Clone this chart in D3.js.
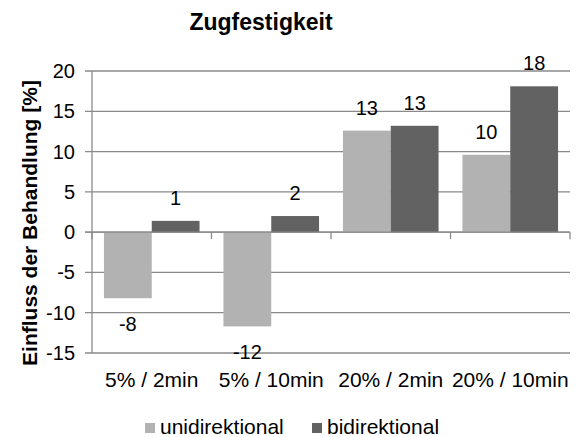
<!DOCTYPE html>
<html>
<head>
<meta charset="utf-8">
<script src="https://cdn.jsdelivr.net/npm/d3@7"></script>
<style>
  body { margin: 0; background: #fff; }
  text { font-family: "Liberation Sans", Arial, sans-serif; fill: #000; }
</style>
</head>
<body>
<svg id="chart"></svg>
<script>
// categories and series
const categories = ["5% / 2min", "5% / 10min", "20% / 2min", "20% / 10min"];
const seriesNames = ["unidirektional", "bidirektional"];
const uniValues = [-8.2, -11.7, 12.6, 9.6];
const biValues = [1.4, 2.0, 13.2, 18.1];
const yTicks = [-15, -10, -5, 0, 5, 10, 15, 20];

const W = 577, H = 437;
const margin = { top: 71, right: 7, bottom: 84, left: 92 };
const width = W - margin.left - margin.right,
      height = H - margin.top - margin.bottom;

const colors = { unidirektional: "#b2b2b2", bidirektional: "#626262" };
const gridColor = "#8a8a8a";

const svg = d3.select("#chart").attr("width", W).attr("height", H);
const g = svg.append("g").attr("transform", `translate(${margin.left}, ${margin.top})`);

const x = d3.scaleBand().domain(categories).range([0, width]).paddingInner(0.2).paddingOuter(0.1);
const xOuter = d3.scaleBand().domain(categories).range([0, width]);
const xSub = d3.scaleBand().domain(seriesNames).range([0, x.bandwidth()]);
const y = d3.scaleLinear().domain([-15, 20]).range([height, 0]);

// gridlines + y tick marks
g.selectAll("line.grid").data(yTicks).enter().append("line")
  .attr("class", "grid")
  .attr("x1", -7).attr("x2", width)
  .attr("y1", d => y(d)).attr("y2", d => y(d))
  .attr("stroke", gridColor).attr("stroke-width", 1.3);

// y axis line
g.append("line")
  .attr("x1", 0).attr("x2", 0).attr("y1", y(20)).attr("y2", y(-15))
  .attr("stroke", gridColor).attr("stroke-width", 1.3);

// y tick labels
g.selectAll("text.ytick").data(yTicks).enter().append("text")
  .attr("class", "ytick")
  .attr("x", -17).attr("y", d => y(d)).attr("dy", "0.35em")
  .attr("text-anchor", "end")
  .style("font-size", "20px")
  .text(d => d);

const data = categories.map((c, i) => ({
  cat: c,
  vals: [
    { s: "unidirektional", v: uniValues[i] },
    { s: "bidirektional", v: biValues[i] }
  ]
}));

const groups = g.selectAll("g.cat").data(data).enter().append("g")
  .attr("class", "cat")
  .attr("transform", d => `translate(${x(d.cat)},0)`);

groups.selectAll("rect").data(d => d.vals).enter().append("rect")
  .attr("x", d => xSub(d.s))
  .attr("width", xSub.bandwidth())
  .attr("y", d => y(Math.max(0, d.v)))
  .attr("height", d => Math.abs(y(d.v) - y(0)))
  .attr("fill", d => colors[d.s]);

groups.selectAll("text.lbl").data(d => d.vals).enter().append("text")
  .attr("class", "lbl")
  .attr("x", d => xSub(d.s) + xSub.bandwidth() / 2)
  .attr("y", d => d.v >= 0 ? y(d.v) - 16 : y(d.v) + 33)
  .attr("text-anchor", "middle")
  .style("font-size", "20px")
  .text(d => Math.round(d.v));

// zero line (x axis) with category ticks
g.append("line")
  .attr("x1", -7).attr("x2", width).attr("y1", y(0)).attr("y2", y(0))
  .attr("stroke", gridColor).attr("stroke-width", 1.3);
const bounds = [0].concat(categories.map(c => xOuter(c) + xOuter.bandwidth()));
g.selectAll("line.xtick").data(bounds).enter().append("line")
  .attr("class", "xtick")
  .attr("x1", d => d).attr("x2", d => d)
  .attr("y1", y(0)).attr("y2", y(0) + 7)
  .attr("stroke", gridColor).attr("stroke-width", 1.3);

// category labels
g.selectAll("text.xlab").data(categories).enter().append("text")
  .attr("class", "xlab")
  .attr("x", d => xOuter(d) + xOuter.bandwidth() / 2)
  .attr("y", 387 - margin.top)
  .attr("text-anchor", "middle")
  .style("font-size", "21px")
  .text(d => d);

// title
svg.append("text")
  .attr("x", 261).attr("y", 30)
  .attr("text-anchor", "middle")
  .style("font-size", "23px").style("font-weight", "bold")
  .text("Zugfestigkeit");

// y axis title
svg.append("text")
  .attr("transform", "translate(37, 223) rotate(-90)")
  .attr("text-anchor", "middle")
  .style("font-size", "21px").style("font-weight", "bold")
  .text("Einfluss der Behandlung [%]");

// legend
const legendX = [145, 312];
const legend = svg.append("g");
seriesNames.forEach((s, i) => {
  const row = legend.append("g").attr("transform", `translate(${legendX[i]}, 423)`);
  row.append("rect").attr("width", 10).attr("height", 10).attr("fill", colors[s]);
  row.append("text").attr("x", 15).attr("y", 11)
    .style("font-size", "21px").text(s);
});
</script>
</body>
</html>
